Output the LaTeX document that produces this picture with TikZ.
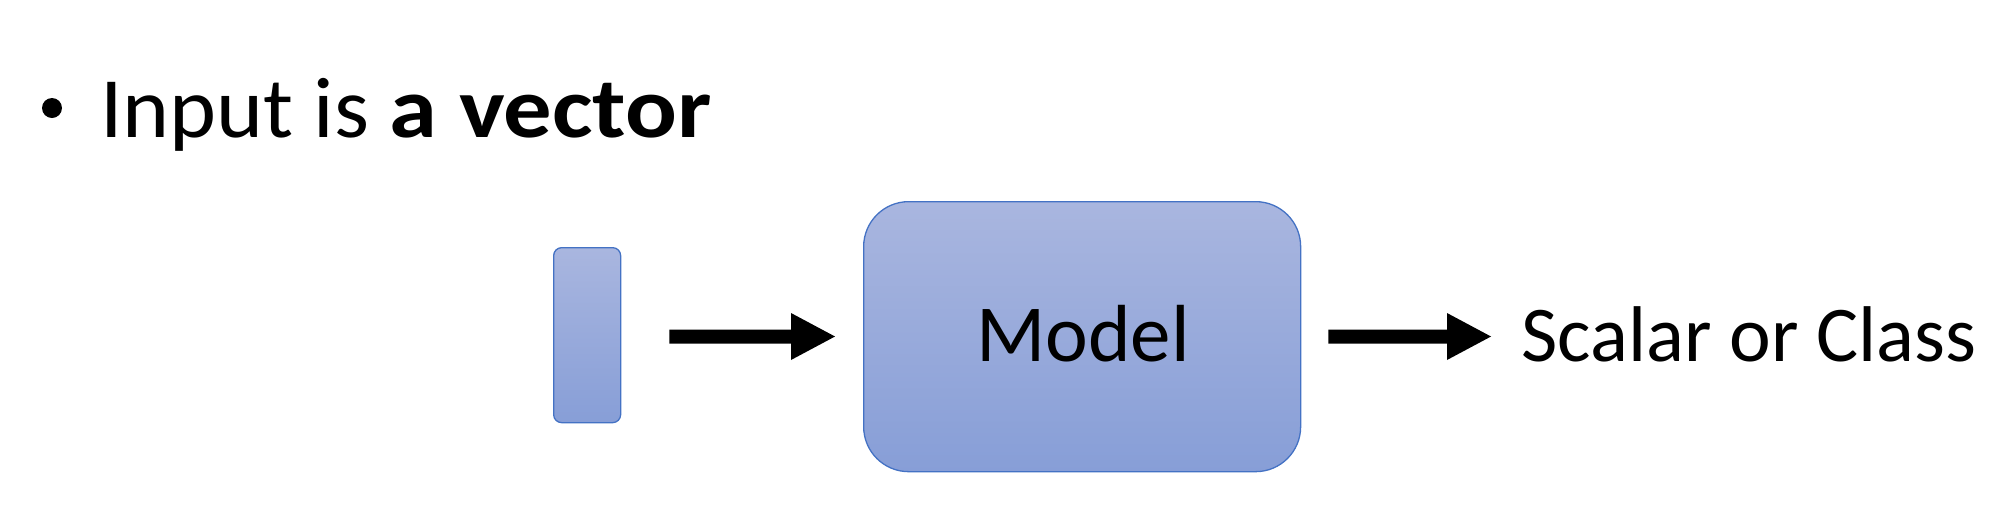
\documentclass[tikz,border=0pt]{standalone}
\usepackage{fontspec}
\setmainfont{Carlito}
\usetikzlibrary{calc}
\definecolor{boxtop}{HTML}{A9B6DF}
\definecolor{boxbot}{HTML}{879ED7}
\definecolor{boxline}{HTML}{4472C4}
\tikzset{
  blockbox/.style={draw=boxline, line width=1.3pt, top color=boxtop, bottom color=boxbot, inner sep=0pt, anchor=north west},
  bigtext/.style={font=\fontsize{86}{100}\selectfont, inner sep=0pt, anchor=base west}
}
% block arrow from #1 to #2 (tip), horizontal
\newcommand{\blockarrow}[2]{%
  \fill let \p1=(#1), \p2=(#2) in
    (\x1,\y1+7pt) -- (\x2-44pt,\y1+7pt) -- (\x2-44pt,\y1+23.5pt) -- (\x2,\y1)
    -- (\x2-44pt,\y1-23.5pt) -- (\x2-44pt,\y1-7pt) -- (\x1,\y1-7pt) -- cycle;}
\begin{document}
\begin{tikzpicture}[x=1pt,y=-1pt]
\useasboundingbox (0,0) rectangle (1995,507);
\fill (52,108) circle (10);
\node[bigtext] (title) at (100,137) {\scalebox{1.04}[1]{Input is \scalebox{1.08}[1]{\textbf{a vector}}}};
\node[blockbox, rounded corners=8pt, minimum width=67pt, minimum height=175pt] (vec) at (553,247) {};
\node[blockbox, rounded corners=45pt, minimum width=437pt, minimum height=270pt] (model) at (863,201) {};
\node[font=\fontsize{81}{95}\selectfont, inner sep=0pt, anchor=base] (mtext) at (1083,361) {Model};
\node[font=\fontsize{79}{95}\selectfont, inner sep=0pt, anchor=base west] (out) at (1521,361) {Scalar or Class};
\coordinate (a1s) at ([xshift=48pt]vec.east |- 0,336.5);
\coordinate (a1e) at ([xshift=-28pt]model.west |- 0,336.5);
\coordinate (a2s) at ([xshift=27pt]model.east |- 0,336.5);
\coordinate (a2e) at ([xshift=-30pt]out.west |- 0,336.5);
\blockarrow{a1s}{a1e}
\blockarrow{a2s}{a2e}
\end{tikzpicture}
\end{document}
